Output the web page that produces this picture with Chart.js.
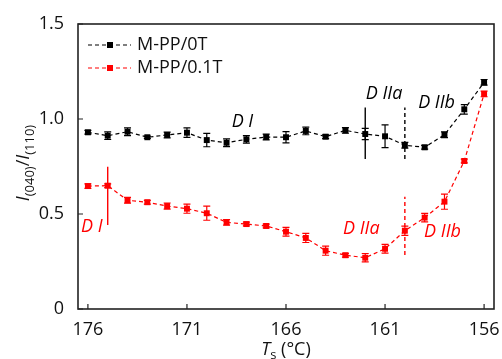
<!DOCTYPE html>
<html>
<head>
<meta charset="utf-8">
<script src="https://cdn.jsdelivr.net/npm/chart.js@4.4.1/dist/chart.umd.min.js"></script>
<style>
  html, body { margin: 0; padding: 0; background: #fff; }
  #wrap { width: 502px; height: 359px; }
</style>
</head>
<body>
<div id="wrap"><canvas id="c" width="502" height="359"></canvas></div>
<script>
// annealing temperatures Ts (°C)
const temps = [176, 175, 174, 173, 172, 171, 170, 169, 168, 167, 166, 165, 164, 163, 162, 161, 160, 159, 158, 157, 156];
const ratio0T = [0.930, 0.912, 0.933, 0.904, 0.916, 0.928, 0.889, 0.875, 0.893, 0.905, 0.904, 0.937, 0.907, 0.940, 0.921, 0.909, 0.862, 0.851, 0.917, 1.051, 1.193];
const err0T = [0.01, 0.02, 0.02, 0.006, 0.015, 0.025, 0.035, 0.02, 0.02, 0.015, 0.03, 0.02, 0.01, 0.015, 0.03, 0.06, 0.015, 0.01, 0.015, 0.025, 0.015];
const ratio01T = [0.647, 0.649, 0.572, 0.562, 0.542, 0.528, 0.504, 0.456, 0.447, 0.437, 0.407, 0.374, 0.307, 0.283, 0.270, 0.317, 0.412, 0.481, 0.565, 0.779, 1.132];
const err01T = [0.012, 0.01, 0.015, 0.01, 0.016, 0.024, 0.037, 0.015, 0.01, 0.01, 0.023, 0.024, 0.024, 0.01, 0.022, 0.023, 0.024, 0.022, 0.04, 0.01, 0.015];
const xTicks = [176, 171, 166, 161, 156];
const yTicks = [0, 0.5, 1.0, 1.5];

// region boundary lines: [Ts, yFrom, yTo, dashed, colour]
const boundaries = [
  [162, 0.79, 1.06, false, "#000"],
  [160, 0.79, 1.06, true, "#000"],
  [175, 0.442, 0.749, false, "#ff0000"],
  [160, 0.284, 0.591, true, "#ff0000"],
];
// region labels: [text, Ts, y, colour]
const regionLabels = [
  ["D I", 168.2, 0.984, "#000"],
  ["D IIa", 161.05, 1.13, "#000"],
  ["D IIb", 158.4, 1.084, "#000"],
  ["D I", 175.8, 0.43, "#ff0000"],
  ["D IIa", 162.2, 0.42, "#ff0000"],
  ["D IIb", 158.1, 0.405, "#ff0000"],
];

const FONT = '"Open Sans", sans-serif';
const errs = [err0T, err01T];

const pts = (ys) => temps.map((t, i) => ({ x: t, y: ys[i] }));

const extras = {
  id: "extras",
  beforeDatasetsDraw(chart) {
    const ctx = chart.ctx;
    const xs = chart.scales.x, ys = chart.scales.y;
    ctx.save();
    // error bars
    chart.data.datasets.forEach((ds, di) => {
      ctx.strokeStyle = ds.borderColor;
      ctx.lineWidth = 1.2;
      ds.data.forEach((p, i) => {
        const px = xs.getPixelForValue(p.x);
        const y1 = ys.getPixelForValue(p.y + errs[di][i]);
        const y2 = ys.getPixelForValue(p.y - errs[di][i]);
        ctx.beginPath();
        ctx.moveTo(px, y1); ctx.lineTo(px, y2);
        ctx.moveTo(px - 3.5, y1); ctx.lineTo(px + 3.5, y1);
        ctx.moveTo(px - 3.5, y2); ctx.lineTo(px + 3.5, y2);
        ctx.stroke();
      });
    });
    // boundary lines
    boundaries.forEach(([t, a, b, dashed, col]) => {
      const px = xs.getPixelForValue(t);
      ctx.strokeStyle = col;
      ctx.lineWidth = 1.4;
      ctx.setLineDash(dashed ? [4, 3] : []);
      ctx.beginPath();
      ctx.moveTo(px, ys.getPixelForValue(a));
      ctx.lineTo(px, ys.getPixelForValue(b));
      ctx.stroke();
    });
    ctx.restore();
  },
  afterDraw(chart) {
    const ctx = chart.ctx;
    const xs = chart.scales.x, ys = chart.scales.y;
    const a = chart.chartArea;
    ctx.save();
    // region labels
    ctx.font = "italic 18px " + FONT;
    ctx.textAlign = "center";
    ctx.textBaseline = "middle";
    regionLabels.forEach(([txt, t, v, col]) => {
      ctx.fillStyle = col;
      ctx.fillText(txt, xs.getPixelForValue(t), ys.getPixelForValue(v));
    });
    // frame
    ctx.strokeStyle = "#222";
    ctx.lineWidth = 1.6;
    ctx.strokeRect(a.left, a.top, a.right - a.left, a.bottom - a.top);
    // inward tick marks
    ctx.lineWidth = 1.2;
    ctx.beginPath();
    xTicks.forEach(v => {
      const px = xs.getPixelForValue(v);
      ctx.moveTo(px, a.bottom); ctx.lineTo(px, a.bottom - 5);
    });
    yTicks.forEach(v => {
      const py = ys.getPixelForValue(v);
      ctx.moveTo(a.left, py); ctx.lineTo(a.left + 5, py);
    });
    ctx.stroke();
    // legend
    chart.data.datasets.forEach((ds, i) => {
      const ly = 45 + i * 23;
      ctx.strokeStyle = ds.borderColor;
      ctx.lineWidth = 1.2;
      ctx.setLineDash([4, 3]);
      ctx.beginPath(); ctx.moveTo(88, ly); ctx.lineTo(131, ly); ctx.stroke();
      ctx.setLineDash([]);
      ctx.fillStyle = ds.borderColor;
      ctx.fillRect(107, ly - 3, 6, 6);
      ctx.fillStyle = "#111";
      ctx.font = "18px " + FONT;
      ctx.textAlign = "left";
      ctx.textBaseline = "middle";
      ctx.fillText(ds.label, 137, ly);
    });
    // axis titles
    ctx.fillStyle = "#111";
    const parts = (list) => list.reduce((w, p) => { ctx.font = p[1]; return w + ctx.measureText(p[0]).width; }, 0);
    const drawParts = (list, x0, y0) => {
      let x = x0;
      list.forEach(([s, f, dy]) => {
        ctx.font = f;
        ctx.fillText(s, x, y0 + dy);
        x += ctx.measureText(s).width;
      });
    };
    ctx.textAlign = "left";
    ctx.textBaseline = "alphabetic";
    const xTitle = [["T", "italic 18px " + FONT, 0], ["s", "13px " + FONT, 4], [" (\u00b0C)", "18px " + FONT, 0]];
    const cx = (a.left + a.right) / 2;
    drawParts(xTitle, cx - parts(xTitle) / 2, 355);
    const yTitle = [["I", "italic 18px " + FONT, 0], ["(040)", "13px " + FONT, 5], ["/", "18px " + FONT, 0], ["I", "italic 18px " + FONT, 0], ["(110)", "13px " + FONT, 5]];
    ctx.translate(29, 163);
    ctx.rotate(-Math.PI / 2);
    drawParts(yTitle, -parts(yTitle) / 2, 0);
    ctx.restore();
  }
};

new Chart(document.getElementById("c"), {
  type: "line",
  data: {
    datasets: [
      {
        label: "M-PP/0T",
        data: pts(ratio0T),
        borderColor: "#000",
        backgroundColor: "#000",
        borderWidth: 1.2,
        borderDash: [4, 3],
        pointStyle: "rect",
        pointRadius: 4.2,
        pointBorderWidth: 0,
      },
      {
        label: "M-PP/0.1T",
        data: pts(ratio01T),
        borderColor: "#ff0000",
        backgroundColor: "#ff0000",
        borderWidth: 1.2,
        borderDash: [4, 3],
        pointStyle: "rect",
        pointRadius: 4.2,
        pointBorderWidth: 0,
      },
    ],
  },
  options: {
    responsive: false,
    animation: false,
    devicePixelRatio: 1,
    layout: { padding: { top: 24, right: 8, left: 0, bottom: 0 } },
    plugins: { legend: { display: false }, tooltip: { enabled: false } },
    scales: {
      x: {
        type: "linear",
        reverse: true,
        min: 155.5,
        max: 176.5,
        afterBuildTicks: (s) => { s.ticks = xTicks.map(v => ({ value: v })); },
        afterFit: (s) => { s.height = 50; },
        grid: { display: false },
        border: { display: false },
        ticks: { color: "#111", font: { family: FONT, size: 18 }, padding: 2, maxRotation: 0 },
      },
      y: {
        min: 0,
        max: 1.5,
        afterBuildTicks: (s) => { s.ticks = yTicks.map(v => ({ value: v })); },
        afterFit: (s) => { s.width = 78; },
        grid: { display: false },
        border: { display: false },
        ticks: {
          color: "#111",
          font: { family: FONT, size: 18 },
          padding: 6,
          callback: (v) => (v === 0 ? "0" : v.toFixed(1)),
        },
      },
    },
  },
  plugins: [extras],
});
</script>
</body>
</html>
